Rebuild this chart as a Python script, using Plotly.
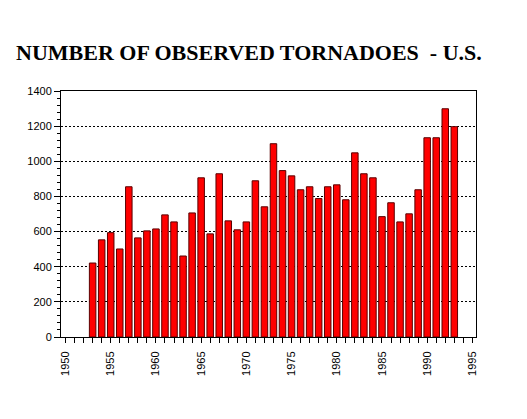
import plotly.graph_objects as go

years = list(range(1953, 1994))
counts = [421, 553, 594, 501, 855, 564, 604, 615, 695, 655,
          461, 706, 906, 587, 929, 661, 610, 655, 889, 741,
          1100, 947, 917, 838, 855, 788, 855, 866, 781, 1048,
          929, 906, 685, 764, 655, 701, 838, 1134, 1134, 1299, 1197]

y_ticks = [0, 200, 400, 600, 800, 1000, 1200, 1400]
x_ticks = list(range(1950, 1996, 5))

fig = go.Figure()
fig.add_trace(go.Bar(
    x=years, y=counts, width=0.72,
    marker=dict(color="#FF0000", line=dict(color="#5a0000", width=1)),
))

fig.update_layout(
    width=527, height=419,
    paper_bgcolor="white", plot_bgcolor="white",
    margin=dict(l=53, r=59, t=83, b=90),
    showlegend=False,
    font=dict(family="Liberation Sans, Arial, sans-serif", size=11, color="black"),
    title=dict(
        text="<b>NUMBER OF OBSERVED TORNADOES  - U.S.</b>",
        font=dict(family="Liberation Serif, Times New Roman, serif", size=22, color="black"),
        xref="container", yref="container",
        x=8/527, xanchor="left", y=1 - 44/419, yanchor="middle",
    ),
    xaxis=dict(
        range=[1949.5, 1995.4],
        tickvals=x_ticks, ticktext=[str(v) for v in x_ticks],
        tickangle=-90, ticks="outside", ticklen=5, tickcolor="black",
        ticklabelstandoff=4,
        minor=dict(dtick=1, tick0=1950, ticks="outside", ticklen=5, tickcolor="black"),
        showline=True, linecolor="black", linewidth=1, mirror=True,
        showgrid=False, zeroline=False,
        tickfont=dict(size=11),
    ),
    yaxis=dict(
        range=[0, 1400],
        tickvals=y_ticks,
        ticks="outside", ticklen=6, tickcolor="black",
        minor=dict(dtick=40, tick0=0, ticks="outside", ticklen=3, tickcolor="black", showgrid=False),
        showline=True, linecolor="black", linewidth=1, mirror=True,
        showgrid=True, gridcolor="black", gridwidth=1, griddash="2px,2px",
        zeroline=False,
        tickfont=dict(size=11),
    ),
)

fig.write_html("out.html")
